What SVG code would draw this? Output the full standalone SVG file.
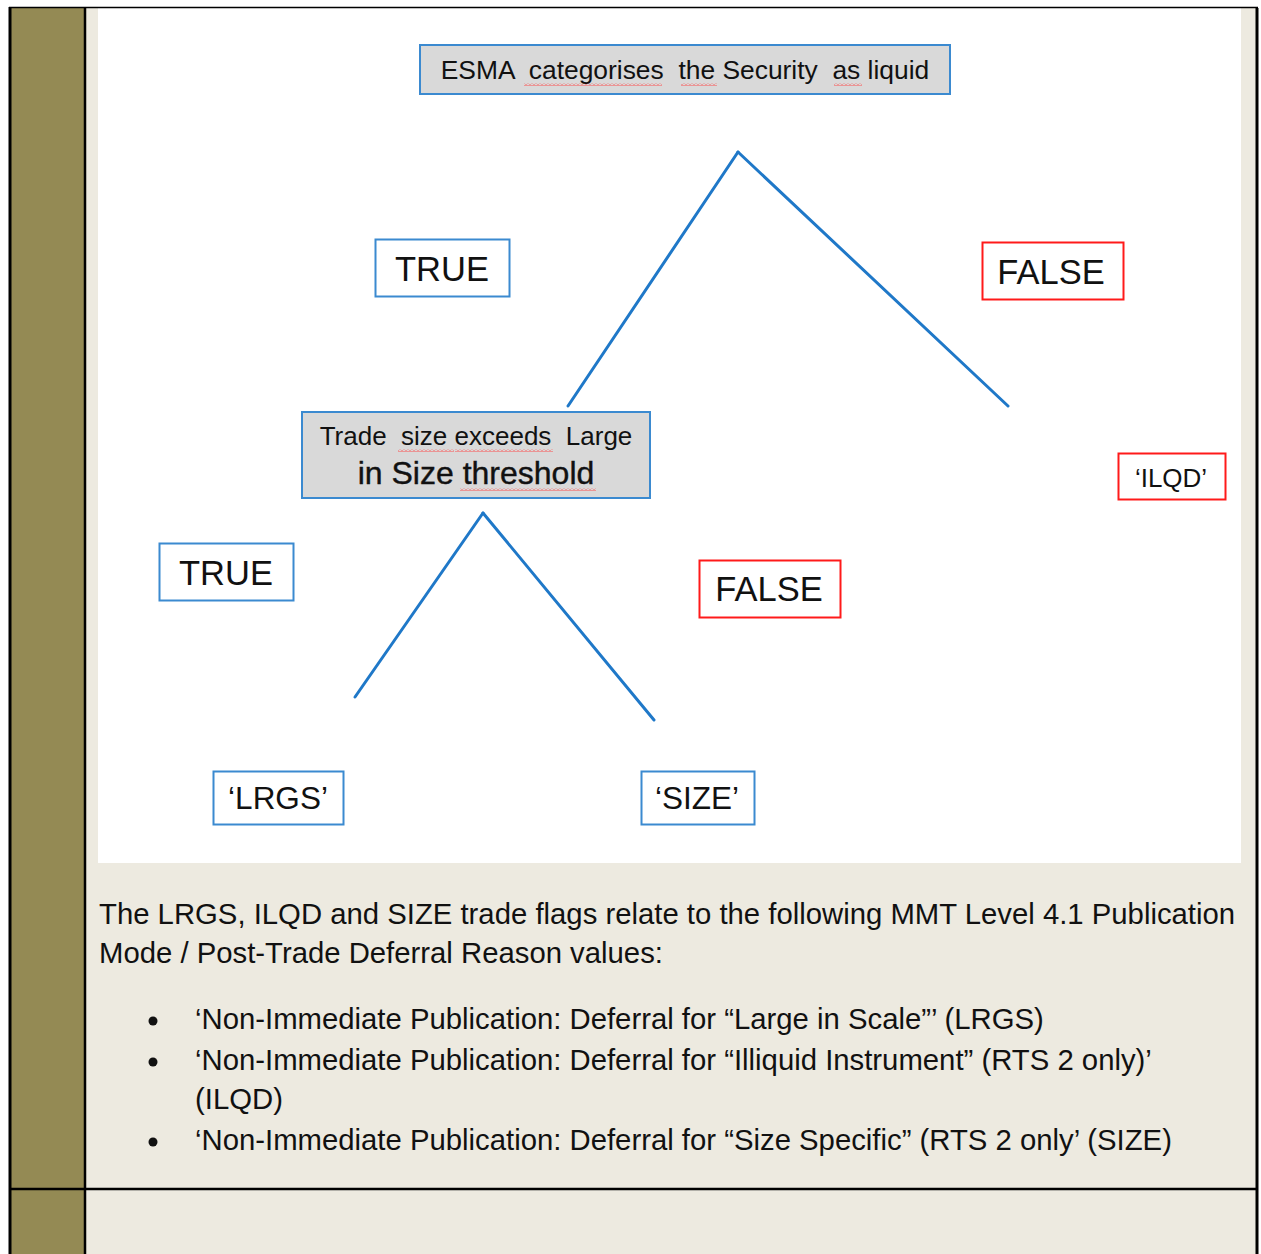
<svg xmlns="http://www.w3.org/2000/svg" width="1261" height="1254" viewBox="0 0 1261 1254">
<defs>
<style>
.t{font-family:"Liberation Sans",Arial,sans-serif;fill:#111}
.bb{fill:#fff;stroke:#3b8ad0;stroke-width:2}
.gb{fill:#d9d9d9;stroke:#3b8ad0;stroke-width:2}
.rb{fill:#fff;stroke:#ff1a1a;stroke-width:2}
.ln{stroke:#1f78c8;stroke-width:3;fill:none;stroke-linecap:round}
.sq{fill:url(#wave)}
</style>
<pattern id="wave" width="4" height="3" patternUnits="userSpaceOnUse">
<path d="M0,2.5 L2,0.5 L4,2.5" fill="none" stroke="#ff4040" stroke-width="0.9"/>
</pattern>
</defs>
<rect x="0" y="0" width="1261" height="1254" fill="#fff"/>
<rect x="11" y="8" width="1246" height="1246" fill="#edeae0"/>
<rect x="11" y="8" width="74" height="1246" fill="#948a54"/>
<rect x="98" y="8" width="1143" height="855" fill="#fff"/>
<g id="frame" stroke="#000" fill="none">
<line x1="9" y1="7.5" x2="1258" y2="7.5" stroke-width="1.5"/>
<line x1="10" y1="7" x2="10" y2="1254" stroke-width="3"/>
<line x1="85" y1="8" x2="85" y2="1254" stroke-width="2.5"/>
<line x1="1257" y1="8" x2="1257" y2="1254" stroke-width="3"/>
<line x1="10" y1="1189" x2="1258" y2="1189" stroke-width="2.5"/>
</g>
<g id="connectors">
<line class="ln" x1="738" y1="152" x2="568" y2="406"/>
<line class="ln" x1="738" y1="152" x2="1008" y2="406"/>
<line class="ln" x1="483" y1="513" x2="355" y2="697"/>
<line class="ln" x1="483" y1="513" x2="654" y2="720"/>
</g>
<g id="n-esma">
<rect class="gb" x="420" y="45" width="530" height="49"/>
<text class="t" x="685" y="79" font-size="26.4" text-anchor="middle" xml:space="preserve">ESMA  categorises  the Security  as liquid</text>
<rect class="sq" x="524" y="83" width="138" height="3"/>
<rect class="sq" x="681" y="83" width="36" height="3"/>
<rect class="sq" x="834" y="83" width="28" height="3"/>
</g>
<g id="n-true1">
<rect class="bb" x="375.500" y="239.500" width="134" height="57"/>
<text class="t" x="442" y="281" font-size="34.5" text-anchor="middle">TRUE</text>
</g>
<g id="n-false1">
<rect class="rb" x="982.500" y="242.500" width="141" height="57"/>
<text class="t" x="1051" y="284" font-size="34.5" text-anchor="middle">FALSE</text>
</g>
<g id="n-trade">
<rect class="gb" x="302" y="412" width="348" height="86"/>
<text class="t" x="476" y="445" font-size="26" text-anchor="middle" xml:space="preserve">Trade  size exceeds  Large</text>
<text class="t" x="476" y="484" font-size="32" text-anchor="middle" stroke="#111" stroke-width="0.4">in Size threshold</text>
<rect class="sq" x="398" y="449" width="56" height="3"/>
<rect class="sq" x="455" y="449" width="98" height="3"/>
<rect class="sq" x="460" y="488" width="136" height="3"/>
</g>
<g id="n-ilqd">
<rect class="rb" x="1118.500" y="453.500" width="107" height="46"/>
<text class="t" x="1171" y="487" font-size="26" text-anchor="middle">‘ILQD’</text>
</g>
<g id="n-true2">
<rect class="bb" x="159.500" y="543.500" width="134" height="57"/>
<text class="t" x="226" y="585" font-size="34.5" text-anchor="middle">TRUE</text>
</g>
<g id="n-false2">
<rect class="rb" x="699.500" y="560.500" width="141" height="57"/>
<text class="t" x="769" y="601" font-size="34.5" text-anchor="middle">FALSE</text>
</g>
<g id="n-lrgs">
<rect class="bb" x="213.500" y="771.500" width="130" height="53"/>
<text class="t" x="278" y="809" font-size="31.5" text-anchor="middle">‘LRGS’</text>
</g>
<g id="n-size">
<rect class="bb" x="641.500" y="771.500" width="113" height="53"/>
<text class="t" x="697" y="809" font-size="31.5" text-anchor="middle">‘SIZE’</text>
</g>
<g id="body" class="t" font-size="29.3">
<text x="99" y="924">The LRGS, ILQD and SIZE trade flags relate to the following MMT Level 4.1 Publication</text>
<text x="99" y="963">Mode / Post-Trade Deferral Reason values:</text>
<circle cx="153" cy="1021" r="4.5" fill="#111"/>
<circle cx="153" cy="1062" r="4.5" fill="#111"/>
<circle cx="153" cy="1142" r="4.5" fill="#111"/>
<text x="195" y="1029">‘Non-Immediate Publication: Deferral for “Large in Scale”’ (LRGS)</text>
<text x="195" y="1070">‘Non-Immediate Publication: Deferral for “Illiquid Instrument” (RTS 2 only)’</text>
<text x="195" y="1109">(ILQD)</text>
<text x="195" y="1150">‘Non-Immediate Publication: Deferral for “Size Specific” (RTS 2 only’ (SIZE)</text>
</g>
</svg>
